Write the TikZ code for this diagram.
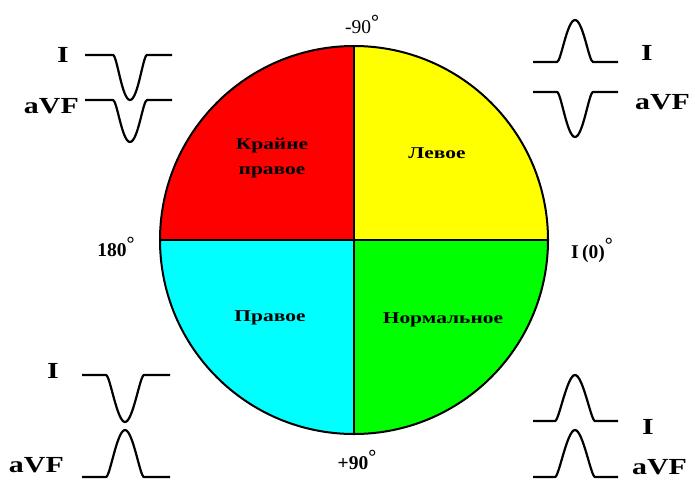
\documentclass[tikz,border=0pt]{standalone}
\usepackage{fontspec}
\setmainfont{Liberation Serif}
\newfontfamily\wideserif[FakeStretch=1.3]{Liberation Serif}
\definecolor{qred}{RGB}{255,0,0}
\definecolor{qyellow}{RGB}{255,255,0}
\definecolor{qcyan}{RGB}{0,255,255}
\definecolor{qgreen}{RGB}{0,255,0}
\newcommand\ecgwave[7]{% L s c e R baseline peak
  \draw[wavestyle] (#1,#6) -- (#2,#6) .. controls (#2+4,#6) and (#3-8,#7) .. (#3,#7)
    .. controls (#3+8,#7) and (#4-4,#6) .. (#4,#6) -- (#5,#6);}
\newcommand\degmark[1]{\raisebox{#1}{\bfseries\fontsize{20}{20}\selectfont °}}
\begin{document}
\begin{tikzpicture}[x=1pt,y=-1pt,
  wavestyle/.style={line width=2.2pt, black, line join=round},
  lead/.style={font=\wideserif\bfseries\fontsize{23}{23}\selectfont, inner sep=0pt},
  quad/.style={font=\wideserif\bfseries\fontsize{16.5}{25}\selectfont, align=center, inner sep=0pt},
  deg/.style={font=\bfseries\fontsize{19.5}{19.5}\selectfont, inner sep=0pt}]
\useasboundingbox (0,0) rectangle (695,485);
\fill[white] (0,0) rectangle (695,485);
% quadrants
\begin{scope}
  \clip (354,240) circle[radius=194];
  \fill[qred] (150,30) rectangle (354,240);
  \fill[qyellow] (354,30) rectangle (560,240);
  \fill[qcyan] (150,240) rectangle (354,450);
  \fill[qgreen] (354,240) rectangle (560,450);
\end{scope}
\node[circle, draw, line width=2pt, minimum size=388pt, inner sep=0pt] (dial) at (354,240) {};
\draw[line width=1.5pt] (dial.north) -- (dial.south);
\draw[line width=1.5pt] (dial.west) -- (dial.east);
% quadrant labels
\node[quad] (q1) at (272,158) {Крайне\\правое};
\node[quad] (q2) at (437,153) {Левое};
\node[quad] (q3) at (270,318) {Правое};
\node[quad] (q4) at (443,320) {Нормальное};
% degree labels
\node[deg, font=\fontsize{19.5}{19.5}\selectfont] (dtop) at (362,24) {-90\degmark{5pt}};
\node[deg] (dbot) at (357,460) {+90\degmark{6pt}};
\node[deg] (dleft) at (116,247) {180\degmark{6pt}};
\node[deg] (dright) at (592,250) {I\,(0)\degmark{7pt}};
% lead labels
\node[lead] (tlI) at (63,55) {I};
\node[lead, anchor=east] (tlA) at (79,106) {aVF};
\node[lead] (trI) at (647,53) {I};
\node[lead, anchor=west] (trA) at (635,102) {aVF};
\node[lead] (blI) at (53,371) {I};
\node[lead, anchor=east] (blA) at (64,465) {aVF};
\node[lead] (brI) at (648,427) {I};
\node[lead, anchor=west] (brA) at (632,467) {aVF};
% waveforms
\ecgwave{85}{113}{130}{147}{172}{55}{100}
\ecgwave{85}{113}{130}{147}{172}{100}{142}
\ecgwave{533}{557}{575}{593}{618}{62}{20}
\ecgwave{533}{557}{575}{593}{618}{92}{137}
\ecgwave{82}{106}{125}{144}{170}{375}{422}
\ecgwave{82}{106}{125}{144}{170}{477}{430}
\ecgwave{533}{555}{575}{595}{618}{421}{375}
\ecgwave{533}{555}{575}{595}{618}{477}{430}
\end{tikzpicture}
\end{document}
